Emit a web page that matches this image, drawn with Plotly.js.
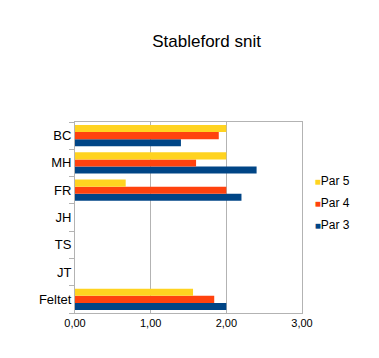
<!DOCTYPE html>
<html><head><meta charset="utf-8">
<script src="https://cdn.plot.ly/plotly-3.0.1.min.js"></script>
<style>html,body{margin:0;padding:0;background:#fff}#c{width:379px;height:358px}</style>
</head><body><div id="c"></div>
<script>
// categories bottom to top
const categories = ["Feltet", "JT", "TS", "JH", "FR", "MH", "BC"];
const par3 = [2.00, 0, 0, 0, 2.20, 2.40, 1.40];
const par4 = [1.84, 0, 0, 0, 2.00, 1.60, 1.90];
const par5 = [1.56, 0, 0, 0, 0.67, 2.00, 2.00];
const xTicks = [0, 1, 2, 3];

const series = [
  {name: "Par 3", x: par3, color: "#004586"},
  {name: "Par 4", x: par4, color: "#FF420E"},
  {name: "Par 5", x: par5, color: "#FFD320"}
];
const bars = series.map(t => ({type: "bar", orientation: "h", name: t.name, x: t.x, y: categories,
  marker: {color: t.color}, showlegend: false, hoverinfo: "x+name"}));
const legendItems = series.slice().reverse().map(t => ({type: "scatter", mode: "markers",
  name: '<span style="color:' + t.color + ';font-size:10px">■</span>' + t.name,
  legendgroup: t.name,
  x: [null], y: [null], marker: {symbol: "square", size: 1, color: "rgba(0,0,0,0)"}}));

const layout = {
  width: 379, height: 358,
  margin: {l: 75, r: 77, t: 122, b: 45, autoexpand: false},
  paper_bgcolor: "#fff", plot_bgcolor: "#fff",
  separators: ",.",
  font: {family: "Liberation Sans, Arial, sans-serif", size: 12, color: "#000"},
  title: {text: "Stableford snit", x: 0.545, xanchor: "center", y: 0.885, yanchor: "middle",
    font: {size: 17, color: "#000"}},
  barmode: "group", bargap: 0.22, bargroupgap: 0,
  xaxis: {range: [0, 3], tickvals: xTicks, tickformat: ".2f", showgrid: true,
    gridcolor: "#b3b3b3", gridwidth: 1, showline: true, linecolor: "#b3b3b3", mirror: true,
    zeroline: false, ticks: "", tickfont: {size: 11}, fixedrange: true, automargin: false},
  yaxis: {type: "category", showgrid: false, showline: true, linecolor: "#b3b3b3", mirror: true,
    ticks: "outside", tickson: "boundaries", ticklen: 5, tickcolor: "#b3b3b3",
    tickfont: {size: 13}, fixedrange: true, automargin: false},
  showlegend: true,
  legend: {x: 0.88, xanchor: "left", y: 0.58, yanchor: "middle", traceorder: "grouped",
    font: {size: 12}, itemwidth: 30, tracegroupgap: 3, bgcolor: "rgba(0,0,0,0)"}
};
Plotly.newPlot("c", bars.concat(legendItems), layout, {displayModeBar: false, staticPlot: true});
</script></body></html>
